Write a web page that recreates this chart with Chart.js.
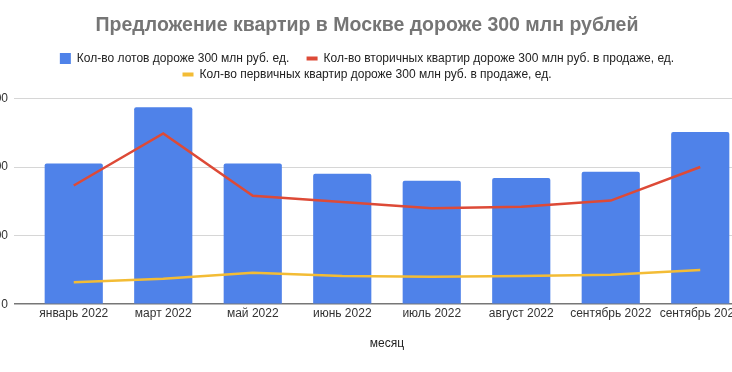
<!DOCTYPE html>
<html>
<head>
<meta charset="utf-8">
<script src="https://cdn.jsdelivr.net/npm/chart.js@4"></script>
<style>
  html, body { margin: 0; padding: 0; background: #fff; overflow: hidden; }
  #wrap { position: absolute; left: -23px; top: 0; width: 780px; height: 372px; }
</style>
</head>
<body>
<div id="wrap"><canvas id="chart"></canvas></div>
<script>
"use strict";

const months = ['январь 2022', 'март 2022', 'май 2022', 'июнь 2022', 'июль 2022', 'август 2022', 'сентябрь 2022', 'сентябрь 2022'];
const lots = [205, 287, 205, 190, 180, 184, 193, 251];
const secondary = [173, 249, 158, 149, 140, 142, 151, 200];
const primary = [32, 37, 46, 41, 40, 41, 43, 50];
const yTicks = [0, 100, 200, 300];

const FONT = '"Liberation Sans", Arial, sans-serif';

(() => {
  Chart.defaults.font.family = FONT;
  Chart.defaults.font.size = 12;
  Chart.defaults.color = '#222';

  // extra room between the legend and the plot
  const legendGap = {
    id: 'legendGap',
    beforeLayout(chart) {
      const legend = chart.legend;
      if (!legend || legend._gapPatched) {
        return;
      }
      const fit = legend.fit;
      legend.fit = function () {
        fit.call(this);
        this.height += 8;
      };
      legend._gapPatched = true;
    }
  };

  new Chart(document.getElementById('chart'), {
    data: {
      labels: months,
      datasets: [
        {
          type: 'bar',
          label: 'Кол-во лотов дороже 300 млн руб. ед.',
          data: lots,
          backgroundColor: '#4f82e9',
          borderRadius: { topLeft: 2, topRight: 2 },
          borderSkipped: 'bottom',
          barPercentage: 0.65,
          categoryPercentage: 1,
          order: 1
        },
        {
          type: 'line',
          label: 'Кол-во вторичных квартир дороже 300 млн руб. в продаже, ед.',
          data: secondary,
          borderColor: '#dd4a37',
          backgroundColor: '#dd4a37',
          borderWidth: 2.5,
          pointRadius: 0,
          tension: 0,
          order: 0
        },
        {
          type: 'line',
          label: 'Кол-во первичных квартир дороже 300 млн руб. в продаже, ед.',
          data: primary,
          borderColor: '#f3bc35',
          backgroundColor: '#f3bc35',
          borderWidth: 2.5,
          pointRadius: 0,
          tension: 0,
          order: 0
        }
      ]
    },

    options: {
      responsive: true,
      maintainAspectRatio: false,
      animation: false,
      layout: {
        padding: { top: 10, left: 12, right: 12, bottom: 21 }
      },

      plugins: {
        title: {
          display: true,
          text: 'Предложение квартир в Москве дороже 300 млн рублей',
          color: '#757575',
          font: { size: 19.5, weight: 'bold' },
          padding: { top: 4, bottom: 11 }
        },

        legend: {
          position: 'top',
          labels: {
            usePointStyle: true,
            pointStyleWidth: 11,
            boxHeight: 11,
            padding: 4,
            color: '#222',
            font: { size: 12 },
            generateLabels(chart) {
              const items = Chart.defaults.plugins.legend.labels.generateLabels(chart);
              for (const item of items) {
                const ds = chart.data.datasets[item.datasetIndex];
                if (ds.type === 'line') {
                  item.pointStyle = 'line';
                  item.lineWidth = 4;
                  item.strokeStyle = ds.borderColor;
                  item.fillStyle = ds.borderColor;
                } else {
                  item.pointStyle = 'rect';
                  item.lineWidth = 0;
                  item.text += '    ';
                }
              }
              return items.sort((a, b) => a.datasetIndex - b.datasetIndex);
            }
          }
        },

        tooltip: { enabled: false }
      },

      scales: {
        x: {
          offset: true,
          grid: { display: false, drawTicks: false },
          border: { display: false },
          ticks: {
            color: '#333',
            padding: 2,
            maxRotation: 0,
            autoSkip: false
          },
          title: {
            display: true,
            text: 'месяц',
            color: '#222',
            padding: { top: 14, bottom: 0 }
          }
        },

        y: {
          min: 0,
          max: 300,
          afterBuildTicks(scale) {
            scale.ticks = yTicks.map(v => ({ value: v }));
          },
          afterFit(scale) {
            scale.width = 40;
          },
          grid: {
            color: (ctx) => (ctx.tick && ctx.tick.value === 0 ? '#777' : '#d6d6d6'),
            lineWidth: (ctx) => (ctx.tick && ctx.tick.value === 0 ? 1.5 : 1),
            tickLength: 15
          },
          border: { display: false },
          ticks: {
            color: '#333',
            padding: 6
          }
        }
      }
    },

    plugins: [legendGap]
  });
})();
</script>
</body>
</html>
